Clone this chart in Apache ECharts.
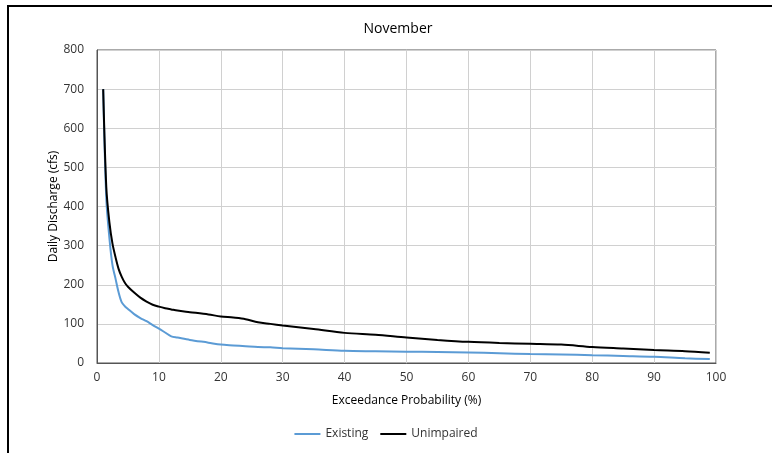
<!DOCTYPE html>
<html>
<head>
<meta charset="utf-8">
<script src="https://cdn.jsdelivr.net/npm/echarts@6/dist/echarts.min.js"></script>
<style>
html,body{margin:0;padding:0;background:#fff}
#chart{width:772px;height:453px}
</style>
</head>
<body>
<div id="chart"></div>
<script>
var prob = [1, 1.5, 2, 2.5, 3, 3.5, 4, 4.5, 5, 6, 7, 8, 9, 10, 11, 12, 13, 15, 18, 20, 22, 24, 26, 28, 30, 35, 40, 45, 50, 55, 60, 65, 70, 75, 80, 85, 90, 95, 99]
var existing = [700, 420, 320, 250, 215, 180, 155, 145, 138, 125, 115, 107, 97, 88, 78, 68, 65, 59, 52, 47, 45, 43, 41, 40, 38, 35, 31, 30, 29, 28, 27, 25, 23, 22, 20, 18, 16, 12, 10]
var unimpaired = [700, 450, 360, 305, 270, 240, 220, 205, 195, 180, 167, 157, 149, 144, 140, 137, 134, 130, 124, 119, 116, 112, 104, 100, 96, 87, 77, 72, 65, 59, 54, 51, 49, 47, 41, 37, 33, 30, 26]

function pairs(xs, ys){
    var out = []
    for(var i = 0; i < xs.length; i++){
        out.push([xs[i], ys[i]])
    }
    return out
}

var font = 'Open Sans'
var chart = echarts.init(document.getElementById('chart'))
chart.setOption({
    animation: false,
    graphic: [{
        type: 'polyline',
        shape: {points: [[8, 460], [8, 6], [780, 6]]},
        style: {stroke: '#000', lineWidth: 2, fill: null}
    }],
    title: {
        text: 'November',
        left: 393,
        top: 17,
        textAlign: 'center',
        textStyle: {fontFamily: font, fontSize: 14, fontWeight: 'normal', color: '#000'}
    },
    legend: {
        bottom: 8,
        left: 'center',
        itemWidth: 26,
        itemHeight: 2,
        itemGap: 12,
        icon: 'rect',
        textStyle: {fontFamily: font, fontSize: 12, color: '#333'},
        data: ['Existing', 'Unimpaired']
    },
    grid: {
        left: 97,
        right: 56,
        top: 50,
        bottom: 90,
        show: true,
        borderColor: '#555',
        borderWidth: 1
    },
    xAxis: {
        type: 'value',
        min: 0,
        max: 100,
        interval: 10,
        name: 'Exceedance Probability (%)',
        nameLocation: 'middle',
        nameGap: 32,
        nameTextStyle: {fontFamily: font, fontSize: 12, color: '#000'},
        axisLine: {show: true, lineStyle: {color: '#555'}},
        axisTick: {show: false},
        axisLabel: {fontFamily: font, fontSize: 12, color: '#333', margin: 9},
        splitLine: {show: true, lineStyle: {color: '#d0d0d0'}}
    },
    yAxis: {
        type: 'value',
        min: 0,
        max: 800,
        interval: 100,
        name: 'Daily Discharge (cfs)',
        nameLocation: 'middle',
        nameGap: 37,
        nameMoveOverlap: false,
        nameTextStyle: {fontFamily: font, fontSize: 12, color: '#000'},
        axisLine: {show: true, lineStyle: {color: '#555'}},
        axisTick: {show: false},
        axisLabel: {fontFamily: font, fontSize: 12, color: '#333', margin: 13},
        splitLine: {show: true, lineStyle: {color: '#d0d0d0'}}
    },
    series: [{
        name: 'Existing',
        type: 'line',
        smooth: 0.3,
        showSymbol: false,
        data: pairs(prob, existing),
        lineStyle: {color: '#5b9bd5', width: 2},
        itemStyle: {color: '#5b9bd5'}
    }, {
        name: 'Unimpaired',
        type: 'line',
        smooth: 0.3,
        showSymbol: false,
        data: pairs(prob, unimpaired),
        lineStyle: {color: '#000', width: 2},
        itemStyle: {color: '#000'}
    }]
})
</script>
</body>
</html>
